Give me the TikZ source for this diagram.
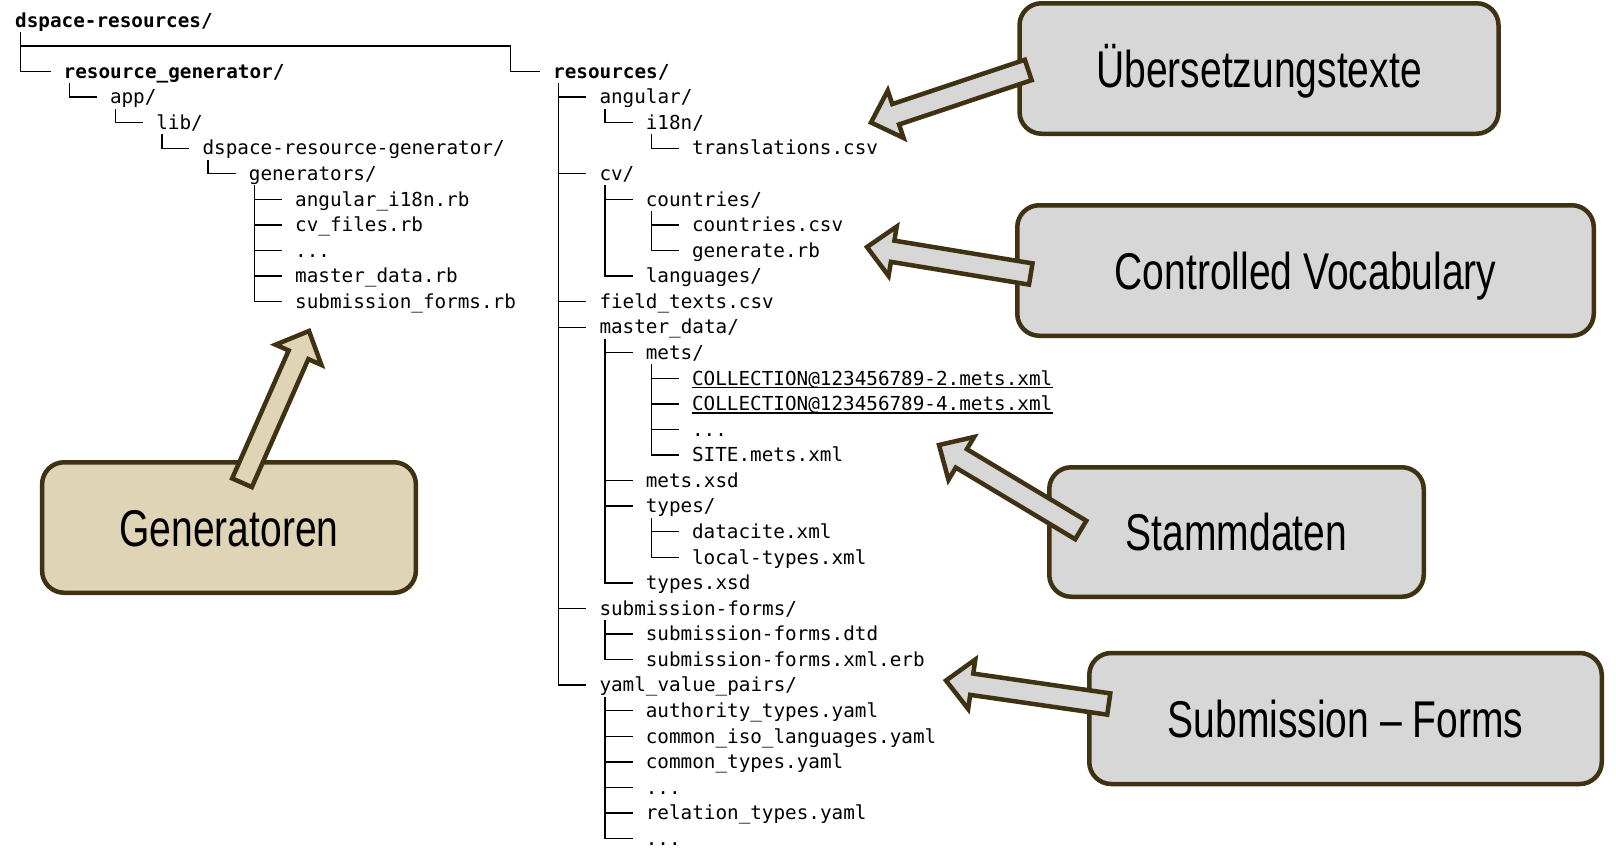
\documentclass[tikz,border=0pt]{standalone}
\usepackage{fontspec}
\usetikzlibrary{calc}
\newfontfamily\monof{DejaVu Sans Mono}
\newfontfamily\narrowsans[FakeStretch=0.755]{Liberation Sans}
\definecolor{edgebrown}{RGB}{62,50,18}
\definecolor{boxgrey}{RGB}{215,215,215}
\definecolor{boxtan}{RGB}{224,212,183}
\tikzset{
  fentry/.style={anchor=base west, inner sep=0pt, font=\monof\fontsize{19.3pt}{22pt}\selectfont},
  fbold/.style={fentry, font=\monof\bfseries\fontsize{19.3pt}{22pt}\selectfont},
  treeline/.style={line width=1.4pt, black},
  uline/.style={line width=1.3pt, black},
  callbox/.style={draw=edgebrown, line width=4.5pt, rounded corners=22pt, inner sep=0pt,
    text height=37pt, text depth=0pt, font=\narrowsans\fontsize{51.7pt}{60pt}\selectfont},
  blockarrow/.style={draw=edgebrown, line width=4.5pt, miter limit=10}
}
\newcommand\fe[4]{\node[fentry] (#1) at (#2,{78.2+25.57*(#3)}) {#4};}
\newcommand\fb[4]{\node[fbold] (#1) at (#2,{78.2+25.57*(#3)}) {#4};}
\newcommand\br[2]{\draw[treeline] ($(#1.base west)+(5.7,5)$) |- ($(#2.base west)+(-13,-6.7)$);}
\newcommand\callarrow[3]{%
  \coordinate (hb) at ($(#3)!26pt!(#2)$);
  \draw[blockarrow, fill=#1] (#3) -- ($(hb)!25pt!90:(#2)$) -- ($(hb)!10.75pt!90:(#2)$)
    -- ($(#2)!10.75pt!-90:(hb)$) -- ($(#2)!10.75pt!90:(hb)$)
    -- ($(hb)!10.75pt!-90:(#2)$) -- ($(hb)!25pt!-90:(#2)$) -- cycle;}
\begin{document}
\begin{tikzpicture}[x=1pt,y=-1pt]
\useasboundingbox (0,0) rectangle (1616,849);
\fill[white] (0,0) rectangle (1616,849);
% ---------- left tree ----------
\fb{root}{15}{-2}{dspace-resources/}
\fb{rg}{63.5}{0}{resource\_generator/}
\fe{app}{109.8}{1}{app/}
\fe{lib}{156.1}{2}{lib/}
\fe{drg}{202.4}{3}{dspace-resource-generator/}
\fe{gen}{248.7}{4}{generators/}
\fe{g1}{295}{5}{angular\_i18n.rb}
\fe{g2}{295}{6}{cv\_files.rb}
\fe{g3}{295}{7}{...}
\fe{g4}{295}{8}{master\_data.rb}
\fe{g5}{295}{9}{submission\_forms.rb}
% ---------- right tree ----------
\fb{res}{553}{0}{resources/}
\fe{r1}{599.3}{1}{angular/}
\fe{r1a}{645.6}{2}{i18n/}
\fe{r1a1}{691.9}{3}{translations.csv}
\fe{r2}{599.3}{4}{cv/}
\fe{r2a}{645.6}{5}{countries/}
\fe{r2a1}{691.9}{6}{countries.csv}
\fe{r2a2}{691.9}{7}{generate.rb}
\fe{r2b}{645.6}{8}{languages/}
\fe{r3}{599.3}{9}{field\_texts.csv}
\fe{r4}{599.3}{10}{master\_data/}
\fe{r4a}{645.6}{11}{mets/}
\fe{r4a1}{691.9}{12}{COLLECTION@123456789-2.mets.xml}
\fe{r4a2}{691.9}{13}{COLLECTION@123456789-4.mets.xml}
\fe{r4a3}{691.9}{14}{...}
\fe{r4a4}{691.9}{15}{SITE.mets.xml}
\fe{r4b}{645.6}{16}{mets.xsd}
\fe{r4c}{645.6}{17}{types/}
\fe{r4c1}{691.9}{18}{datacite.xml}
\fe{r4c2}{691.9}{19}{local-types.xml}
\fe{r4d}{645.6}{20}{types.xsd}
\fe{r5}{599.3}{21}{submission-forms/}
\fe{r5a}{645.6}{22}{submission-forms.dtd}
\fe{r5b}{645.6}{23}{submission-forms.xml.erb}
\fe{r6}{599.3}{24}{yaml\_value\_pairs/}
\fe{r6a}{645.6}{25}{authority\_types.yaml}
\fe{r6b}{645.6}{26}{common\_iso\_languages.yaml}
\fe{r6c}{645.6}{27}{common\_types.yaml}
\fe{r6d}{645.6}{28}{...}
\fe{r6e}{645.6}{29}{relation\_types.yaml}
\fe{r6f}{645.6}{30}{...}
% ---------- connectors ----------
\coordinate (corner) at (510.7,45.9);
\br{root}{rg}
\draw[treeline] ($(root.base west)+(5.7,5)$) |- (corner) |- ($(res.base west)+(-13,-6.7)$);
\br{rg}{app}\br{app}{lib}\br{lib}{drg}\br{drg}{gen}
\br{gen}{g1}\br{gen}{g2}\br{gen}{g3}\br{gen}{g4}\br{gen}{g5}
\br{res}{r1}\br{res}{r2}\br{res}{r3}\br{res}{r4}\br{res}{r5}\br{res}{r6}
\br{r1}{r1a}\br{r1a}{r1a1}
\br{r2}{r2a}\br{r2}{r2b}\br{r2a}{r2a1}\br{r2a}{r2a2}
\br{r4}{r4a}\br{r4}{r4b}\br{r4}{r4c}\br{r4}{r4d}
\br{r4a}{r4a1}\br{r4a}{r4a2}\br{r4a}{r4a3}\br{r4a}{r4a4}
\br{r4c}{r4c1}\br{r4c}{r4c2}
\br{r5}{r5a}\br{r5}{r5b}
\br{r6}{r6a}\br{r6}{r6b}\br{r6}{r6c}\br{r6}{r6d}\br{r6}{r6e}\br{r6}{r6f}
\draw[uline] ($(r4a1.base west)+(0,2.5)$) -- ($(r4a1.base east)+(0,2.5)$);
\draw[uline] ($(r4a2.base west)+(0,2.5)$) -- ($(r4a2.base east)+(0,2.5)$);
% ---------- callout boxes ----------
\node[callbox, fill=boxgrey, minimum width=479pt, minimum height=130.5pt] (ub) at (1259,68.5) {Übersetzungstexte};
\node[callbox, fill=boxgrey, minimum width=576.5pt, minimum height=130.5pt] (cv) at (1305.5,270.5) {Controlled Vocabulary};
\node[callbox, fill=boxgrey, minimum width=374.5pt, minimum height=129.5pt] (st) at (1236.5,532) {Stammdaten};
\node[callbox, fill=boxgrey, minimum width=512.5pt, minimum height=131pt] (sf) at (1345.5,718.5) {Submission – Forms};
\node[callbox, fill=boxtan, minimum width=373.8pt, minimum height=130.5pt] (gn) at (229,527.5) {Generatoren};
% ---------- arrows ----------
\coordinate (t1) at ($(ub.west)+(11,1.5)$);
\coordinate (p1) at (871,122.5);
\coordinate (t2) at ($(cv.west)+(15.75,3.5)$);
\coordinate (p2) at (867,247);
\coordinate (t3) at ($(st.west)+(33.75,-2)$);
\coordinate (p3) at (939,445);
\coordinate (t4) at ($(sf.west)+(21.75,-14.5)$);
\coordinate (p4) at (946,680.5);
\coordinate (t5) at ($(gn.north)+(13,22.75)$);
\coordinate (p5) at (309,331);
\callarrow{boxgrey}{t1}{p1}
\callarrow{boxgrey}{t2}{p2}
\callarrow{boxgrey}{t3}{p3}
\callarrow{boxgrey}{t4}{p4}
\callarrow{boxtan}{t5}{p5}
\end{tikzpicture}
\end{document}
